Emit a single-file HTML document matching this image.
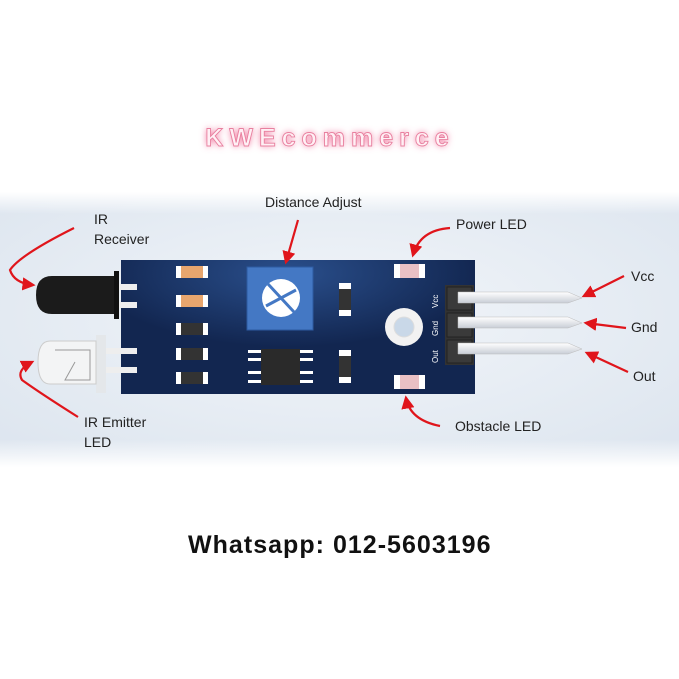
<!DOCTYPE html>
<html><head><meta charset="utf-8"><style>
html,body{margin:0;padding:0;background:#fff;width:679px;height:679px;overflow:hidden}
svg{display:block}
text{font-family:"Liberation Sans","DejaVu Sans",sans-serif}
</style></head><body>
<svg width="679" height="679" viewBox="0 0 679 679" xmlns="http://www.w3.org/2000/svg">
<defs>
<radialGradient id="bg" cx="0.5" cy="0.45" r="0.7">
<stop offset="0" stop-color="#f2f5f9"/><stop offset="0.7" stop-color="#e3eaf2"/><stop offset="1" stop-color="#dde5ef"/>
</radialGradient>
<linearGradient id="fade" x1="0" y1="0" x2="0" y2="1">
<stop offset="0" stop-color="#fff"/><stop offset="0.08" stop-color="#fff" stop-opacity="0"/><stop offset="0.9" stop-color="#fff" stop-opacity="0"/><stop offset="1" stop-color="#fff"/>
</linearGradient>
<radialGradient id="pcb" cx="0.47" cy="0.1" r="0.55">
<stop offset="0" stop-color="#2a4f8c"/><stop offset="1" stop-color="#122650"/>
</radialGradient>
<linearGradient id="pin" x1="0" y1="0" x2="0" y2="1">
<stop offset="0" stop-color="#fff"/><stop offset="1" stop-color="#c9ced6"/>
</linearGradient>
<filter id="glow"><feGaussianBlur stdDeviation="3.5"/></filter>
<marker id="ar" viewBox="0 0 10 10" refX="8" refY="5" markerWidth="6" markerHeight="6" orient="auto"><path d="M0,0L10,5L0,10z" fill="#e0151b"/></marker>
</defs>
<rect x="0" y="192" width="679" height="275" fill="url(#bg)"/>
<rect x="0" y="192" width="679" height="275" fill="url(#fade)"/>
<!-- title -->
<text x="330" y="146" text-anchor="middle" font-size="25" font-weight="bold" fill="#f06a95" filter="url(#glow)" letter-spacing="6">KWEcommerce</text>
<text x="330" y="146" text-anchor="middle" font-size="25" font-weight="bold" fill="#fff0f5" stroke="#e8809f" stroke-width="0.9" letter-spacing="6">KWEcommerce</text>
<!-- board -->
<rect x="121" y="260" width="354" height="134" fill="url(#pcb)"/>
<!-- receiver -->
<rect x="114" y="271" width="5" height="48" fill="#111"/>
<path d="M114,276 L52,276 Q36,276 36,295 Q36,314 52,314 L114,314Z" fill="#1b1b1b"/>
<rect x="119" y="284" width="18" height="6" fill="#eee"/><rect x="119" y="302" width="18" height="6" fill="#eee"/>
<!-- emitter -->
<rect x="96" y="335" width="10" height="58" fill="#e4e7ea"/>
<path d="M96,341 L50,341 Q38,341 38,362 Q38,384 50,384 L96,384Z" fill="#f3f4f5" stroke="#ccc"/>
<path d="M55,350 L90,350 L90,380 L65,380 L75,362" fill="none" stroke="#999"/>
<rect x="106" y="348" width="31" height="6" fill="#eee"/><rect x="106" y="367" width="31" height="6" fill="#eee"/>
<!-- smd -->
<g>
<rect x="176" y="266" width="32" height="12" fill="#fff"/><rect x="181" y="266" width="22" height="12" fill="#e8a66e"/>
<rect x="176" y="295" width="32" height="12" fill="#fff"/><rect x="181" y="295" width="22" height="12" fill="#e8a66e"/>
<rect x="176" y="323" width="32" height="12" fill="#fff"/><rect x="181" y="323" width="22" height="12" fill="#333"/>
<rect x="176" y="348" width="32" height="12" fill="#fff"/><rect x="181" y="348" width="22" height="12" fill="#333"/>
<rect x="176" y="372" width="32" height="12" fill="#fff"/><rect x="181" y="372" width="22" height="12" fill="#333"/>
</g>
<!-- pot -->
<rect x="247" y="267" width="66" height="63" fill="#4478c4" stroke="#2d5aa0"/>
<circle cx="281" cy="298" r="19" fill="#fff"/>
<path d="M268,284 L294,312 M266,306 L296,290" stroke="#4478c4" stroke-width="3"/>
<!-- ic -->
<rect x="261" y="349" width="39" height="36" fill="#2a2a2a"/>
<g fill="#fff"><rect x="248" y="350" width="13" height="3"/><rect x="248" y="358" width="13" height="3"/><rect x="248" y="371" width="13" height="3"/><rect x="248" y="380" width="13" height="3"/>
<rect x="300" y="350" width="13" height="3"/><rect x="300" y="358" width="13" height="3"/><rect x="300" y="371" width="13" height="3"/><rect x="300" y="380" width="13" height="3"/></g>
<rect x="339" y="283" width="12" height="33" fill="#fff"/><rect x="339" y="289" width="12" height="21" fill="#333"/>
<rect x="339" y="350" width="12" height="33" fill="#fff"/><rect x="339" y="356" width="12" height="21" fill="#333"/>
<!-- leds -->
<rect x="394" y="264" width="31" height="14" fill="#fff"/><rect x="400" y="264" width="19" height="14" fill="#e9c0c4"/>
<rect x="394" y="375" width="31" height="14" fill="#fff"/><rect x="400" y="375" width="19" height="14" fill="#e9c0c4"/>
<!-- hole -->
<circle cx="404" cy="327" r="19" fill="#f2f2f2"/><circle cx="404" cy="327" r="10" fill="#c9d8e8" stroke="#ddd"/>
<g fill="#fff" font-size="8">
<text transform="translate(438,308) rotate(-90)">Vcc</text>
<text transform="translate(438,336) rotate(-90)">Gnd</text>
<text transform="translate(438,363) rotate(-90)">Out</text>
</g>
<!-- header -->
<rect x="445" y="285" width="29" height="80" fill="#333"/>
<rect x="447" y="287" width="25" height="23" fill="#3a3a3a" stroke="#222"/>
<rect x="447" y="313" width="25" height="24" fill="#3a3a3a" stroke="#222"/>
<rect x="447" y="340" width="25" height="23" fill="#3a3a3a" stroke="#222"/>
<path d="M458,292 L568,292 L582,298 L568,303 L458,303Z" fill="url(#pin)" stroke="#bbb" stroke-width="0.5"/>
<path d="M458,317 L568,317 L582,323 L568,328 L458,328Z" fill="url(#pin)" stroke="#bbb" stroke-width="0.5"/>
<path d="M458,343 L568,343 L582,349 L568,354 L458,354Z" fill="url(#pin)" stroke="#bbb" stroke-width="0.5"/>
<!-- arrows -->
<g stroke="#e0151b" stroke-width="2.2" fill="none" marker-end="url(#ar)">
<path d="M74,228 Q20,255 10,270 Q14,283 33,285"/>
<path d="M78,417 Q40,393 22,380 Q16,370 32,362"/>
<path d="M298,220 L286,262"/>
<path d="M450,228 Q420,230 413,255"/>
<path d="M440,426 Q410,420 406,398"/>
<path d="M624,276 L584,296"/>
<path d="M626,328 L586,323"/>
<path d="M628,372 L587,353"/>
</g>
<!-- labels -->
<g font-size="14" fill="#222">
<text x="265" y="207">Distance Adjust</text>
<text x="94" y="224">IR</text>
<text x="94" y="244">Receiver</text>
<text x="456" y="229">Power LED</text>
<text x="631" y="281">Vcc</text>
<text x="631" y="332">Gnd</text>
<text x="633" y="381">Out</text>
<text x="84" y="427">IR Emitter</text>
<text x="84" y="447">LED</text>
<text x="455" y="431">Obstacle LED</text>
</g>
<text x="188" y="553" font-size="25" font-weight="bold" fill="#111" letter-spacing="1.5" textLength="304" lengthAdjust="spacing">Whatsapp: 012-5603196</text>
</svg>
</body></html>
